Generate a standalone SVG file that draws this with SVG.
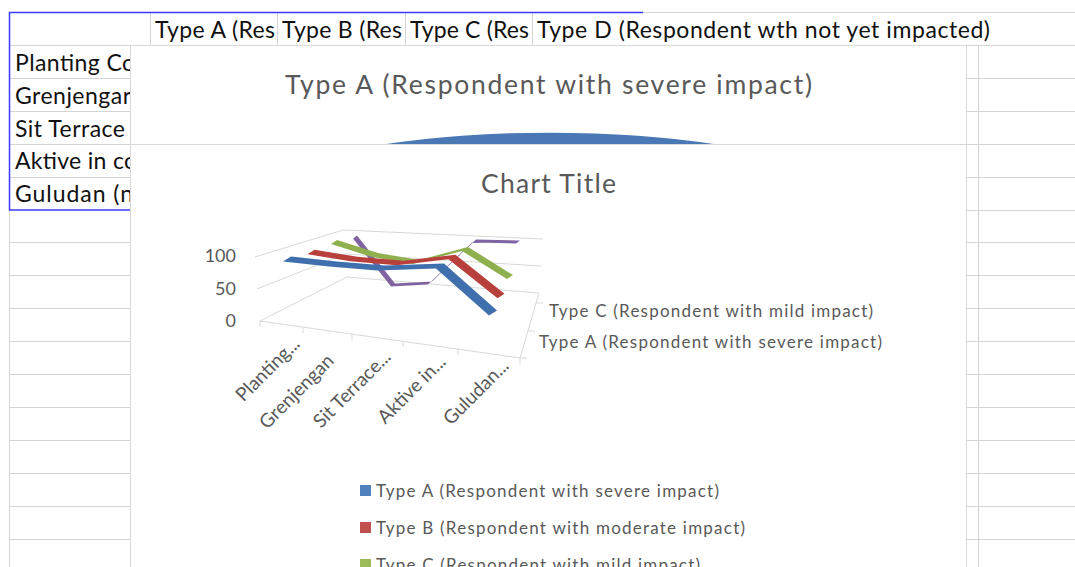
<svg xmlns="http://www.w3.org/2000/svg" width="1075" height="567" viewBox="0 0 1075 567">
  <style>
    .grid { stroke: #d4d4d4; stroke-width: 1; fill: none; }
    .sel { stroke: #3b3bff; stroke-width: 1.5; fill: none; }
    .cell { font-family: Lato, "Liberation Sans", sans-serif; font-size: 23px; fill: #111; }
    .frame { fill: #fff; stroke: #d9d9d9; stroke-width: 1; }
    .title { font-family: Lato, "Liberation Sans", sans-serif; font-size: 26.5px; fill: #595959; text-anchor: middle; }
    .axis { font-family: Lato, "Liberation Sans", sans-serif; font-size: 17px; fill: #595959; }
    .cat { font-family: Lato, "Liberation Sans", sans-serif; font-size: 19px; fill: #595959; text-anchor: end; }
    .wall { stroke: #d9d9d9; stroke-width: 1; fill: none; }
    .tick { stroke: #d9d9d9; stroke-width: 1; }
  </style>

  <rect width="1075" height="567" fill="#fff"/>

  <!-- worksheet grid -->
  <g id="sheet-grid">
    <line class="grid" x1="643" y1="12.5" x2="1075" y2="12.5"/>
    <line class="grid" x1="9" y1="45.5" x2="1075" y2="45.5"/>
    <line class="grid" x1="150.5" y1="12" x2="150.5" y2="45"/>
    <line class="grid" x1="277.5" y1="12" x2="277.5" y2="45"/>
    <line class="grid" x1="405.5" y1="12" x2="405.5" y2="45"/>
    <line class="grid" x1="532.5" y1="12" x2="532.5" y2="45"/>
    <!-- left column rows -->
    <path class="grid" d="M9,78.5H131 M9,111.5H131 M9,144.5H131 M9,177.5H131
      M9,242.5H131 M9,275.5H131 M9,308.5H131 M9,341.5H131 M9,374.5H131
      M9,407.5H131 M9,440.5H131 M9,473.5H131 M9,506.5H131 M9,539.5H131"/>
    <line class="grid" x1="9.5" y1="210" x2="9.5" y2="567"/>
    <!-- right columns -->
    <path class="grid" d="M966,78.5H1075 M966,111.5H1075 M966,144.5H1075 M966,177.5H1075
      M966,210.5H1075 M966,242.5H1075 M966,275.5H1075 M966,308.5H1075 M966,341.5H1075
      M966,374.5H1075 M966,407.5H1075 M966,440.5H1075 M966,473.5H1075 M966,506.5H1075 M966,539.5H1075"/>
    <line class="grid" x1="978.5" y1="45" x2="978.5" y2="567"/>
  </g>

  <!-- cell contents -->
  <g id="cells">
    <text class="cell" x="155" y="38" textLength="120">Type A (Res</text>
    <text class="cell" x="282" y="38" textLength="120">Type B (Res</text>
    <text class="cell" x="410" y="38" textLength="119">Type C (Res</text>
    <text class="cell" x="537" y="38" textLength="453">Type D (Respondent wth not yet impacted)</text>
    <text class="cell" x="15" y="71" textLength="120">Planting Co</text>
    <text class="cell" x="15" y="104" textLength="116">Grenjengar</text>
    <text class="cell" x="15" y="137" textLength="110">Sit Terrace</text>
    <text class="cell" x="15" y="169" textLength="122">Aktive in co</text>
    <text class="cell" x="15" y="202" textLength="118">Guludan (n</text>
  </g>

  <!-- selection outline -->
  <g id="selection">
    <path class="sel" d="M643,12.5 H9.5 V210 H131"/>
  </g>

  <!-- pie chart (partly hidden) -->
  <g id="chart-pie">
    <rect class="frame" x="130.5" y="45.5" width="836" height="540"/>
    <text class="title" x="548.5" y="94" textLength="527">Type A (Respondent with severe impact)</text>
    <path d="M383,144.5 A280,60 0 0 1 717,144.5 Z" fill="#4a78b4"/>
  </g>

  <!-- 3-D line chart -->
  <g id="chart-line">
    <rect class="frame" x="130.5" y="144.5" width="836" height="440"/>
    <text class="title" x="548.5" y="193" textLength="135">Chart Title</text>

    <g id="walls">
      <path class="wall" d="M255,257 L343,230 L543,239"/>
      <path class="wall" d="M257,289 L345,254 L541,266"/>
      <path class="wall" d="M260,321 L347,277 L538,293"/>
      <path class="wall" d="M260,321 L520,358 L539,293"/>
      <path class="tick" d="M260,321V327 M303,327V333 M352,334V340 M403,341V347 M458,349V355 M520,358V364"/>
      <path class="tick" d="M520,358H527 M528,331H535 M536,303H543"/>
    </g>

    <g id="value-axis" class="axis" text-anchor="end" font-size="18">
      <text x="236" y="262" font-size="18">100</text>
      <text x="236" y="295" font-size="18">50</text>
      <text x="236" y="327" font-size="18">0</text>
    </g>

    <g id="category-axis">
      <text class="cat" transform="translate(301,345) rotate(-45)">Planting...</text>
      <text class="cat" transform="translate(335,362) rotate(-45)">Grenjengan</text>
      <text class="cat" transform="translate(392,358) rotate(-45)">Sit Terrace...</text>
      <text class="cat" transform="translate(447,363) rotate(-45)">Aktive in...</text>
      <text class="cat" transform="translate(510,367) rotate(-45)">Guludan...</text>
    </g>

    <g id="series-axis" class="axis">
      <text x="549" y="317" textLength="324">Type C (Respondent with mild impact)</text>
      <text x="539" y="348" textLength="343">Type A (Respondent with severe impact)</text>
    </g>

    <g id="series">
      <!-- Type D -->
      <polygon fill="#8064a2" points="353,238.5 391,286.5 428,284.5 472,242.5 516,243.5 520,240.5 476,239.5 432,281.5 395,283.5 357,235.5"/>
      <!-- Type C -->
      <polygon fill="#8fb04f" points="331,244 372,257 413,264 462,251 507,279 513,275 468,247 419,260 378,253 337,240"/>
      <!-- Type B -->
      <polygon fill="#b8403c" points="307.5,254.2 350.5,261.2 396.5,265.2 448.5,259.2 497.5,298.2 504.5,293.8 455.5,254.8 403.5,260.8 357.5,256.8 314.5,249.8"/>
      <!-- Type A -->
      <polygon fill="#3f70ad" points="283,261.5 329,266.5 377,270.5 436,268.5 489,315.5 497,310.5 444,263.5 385,265.5 337,261.5 291,256.5"/>
    </g>

    <g id="legend" class="axis">
      <rect x="360" y="485" width="11" height="11" fill="#4f81bd"/>
      <text x="376" y="497" textLength="343">Type A (Respondent with severe impact)</text>
      <rect x="360" y="522" width="11" height="11" fill="#c0504d"/>
      <text x="376" y="534" textLength="369">Type B (Respondent with moderate impact)</text>
      <rect x="360" y="559" width="11" height="11" fill="#9bbb59"/>
      <text x="376" y="571" textLength="324">Type C (Respondent with mild impact)</text>
    </g>
  </g>
</svg>
